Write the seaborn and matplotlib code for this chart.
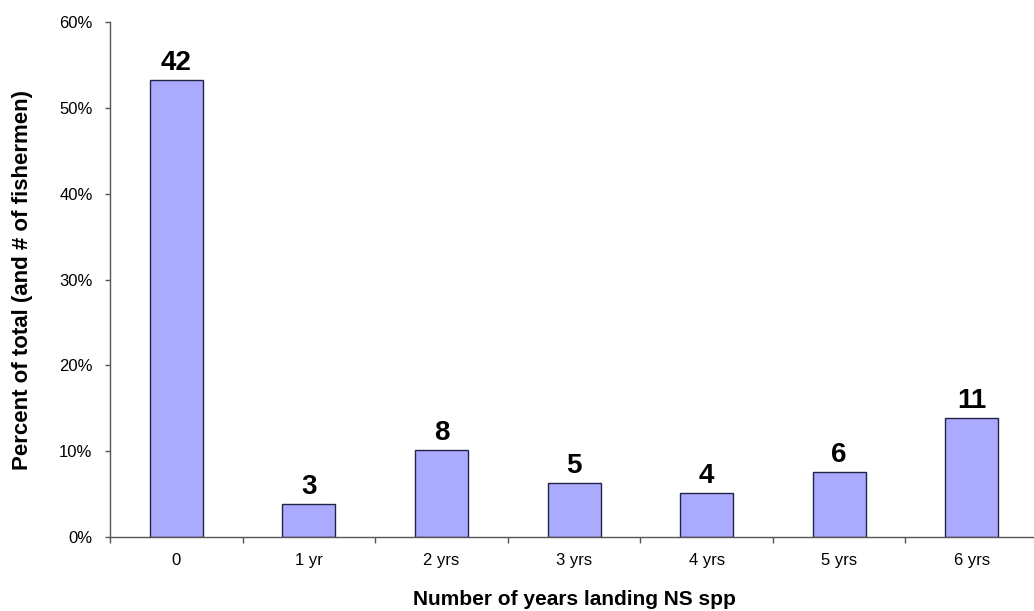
import matplotlib
matplotlib.use("Agg")
import matplotlib.pyplot as plt
import seaborn as sns
import pandas as pd
from matplotlib.ticker import FixedLocator, PercentFormatter

categories = ["0", "1 yr", "2 yrs", "3 yrs", "4 yrs", "5 yrs", "6 yrs"]
counts = [42, 3, 8, 5, 4, 6, 11]
percent = [53.2, 3.8, 10.1, 6.3, 5.1, 7.6, 13.9]
y_ticks = [0, 10, 20, 30, 40, 50, 60]

sns.set_theme(style="white")
plt.rcParams["font.family"] = ["Liberation Sans", "DejaVu Sans"]
plt.rcParams["text.color"] = "black"
plt.rcParams["axes.labelcolor"] = "black"

df = pd.DataFrame({"years": categories, "pct": percent, "n": counts})

fig = plt.figure(figsize=(10.34, 6.11), dpi=100)
ax = fig.add_axes([0.1064, 0.1211, 0.8975, 0.8429])

sns.barplot(data=df, x="years", y="pct", color="#AAAAFF", saturation=1,
            edgecolor="#222244", linewidth=1.0, width=0.4, ax=ax)

ax.bar_label(ax.containers[0], labels=[str(c) for c in counts],
             padding=3, fontsize=20, fontweight="bold", color="black")

ax.set_xlim(-0.5, len(categories) - 0.5)
ax.set_ylim(0, 60)
ax.set_yticks(y_ticks)
ax.yaxis.set_major_formatter(PercentFormatter(decimals=0))

# category boundaries get the tick marks, centres carry the labels
ax.xaxis.set_minor_locator(FixedLocator([i + 0.5 for i in range(-1, len(categories))]))
ax.tick_params(axis="x", which="major", length=0, pad=11.5, labelsize=12,
               labelcolor="black")
ax.tick_params(axis="x", which="minor", length=4.3, width=1, color="#555555",
               direction="out", bottom=True)
ax.tick_params(axis="y", which="major", length=3.6, width=1, color="#555555",
               direction="out", left=True, labelsize=12, pad=9,
               labelcolor="black")

for side in ("top", "right"):
    ax.spines[side].set_visible(False)
for side in ("left", "bottom"):
    ax.spines[side].set_color("#555555")
    ax.spines[side].set_linewidth(1.0)

ax.set_xlabel("Number of years landing NS spp", fontsize=15, fontweight="bold",
              labelpad=16)
ax.set_ylabel("Percent of total (and # of fishermen)", fontsize=16,
              fontweight="bold", labelpad=19)

fig.savefig("out.png", dpi=100)
